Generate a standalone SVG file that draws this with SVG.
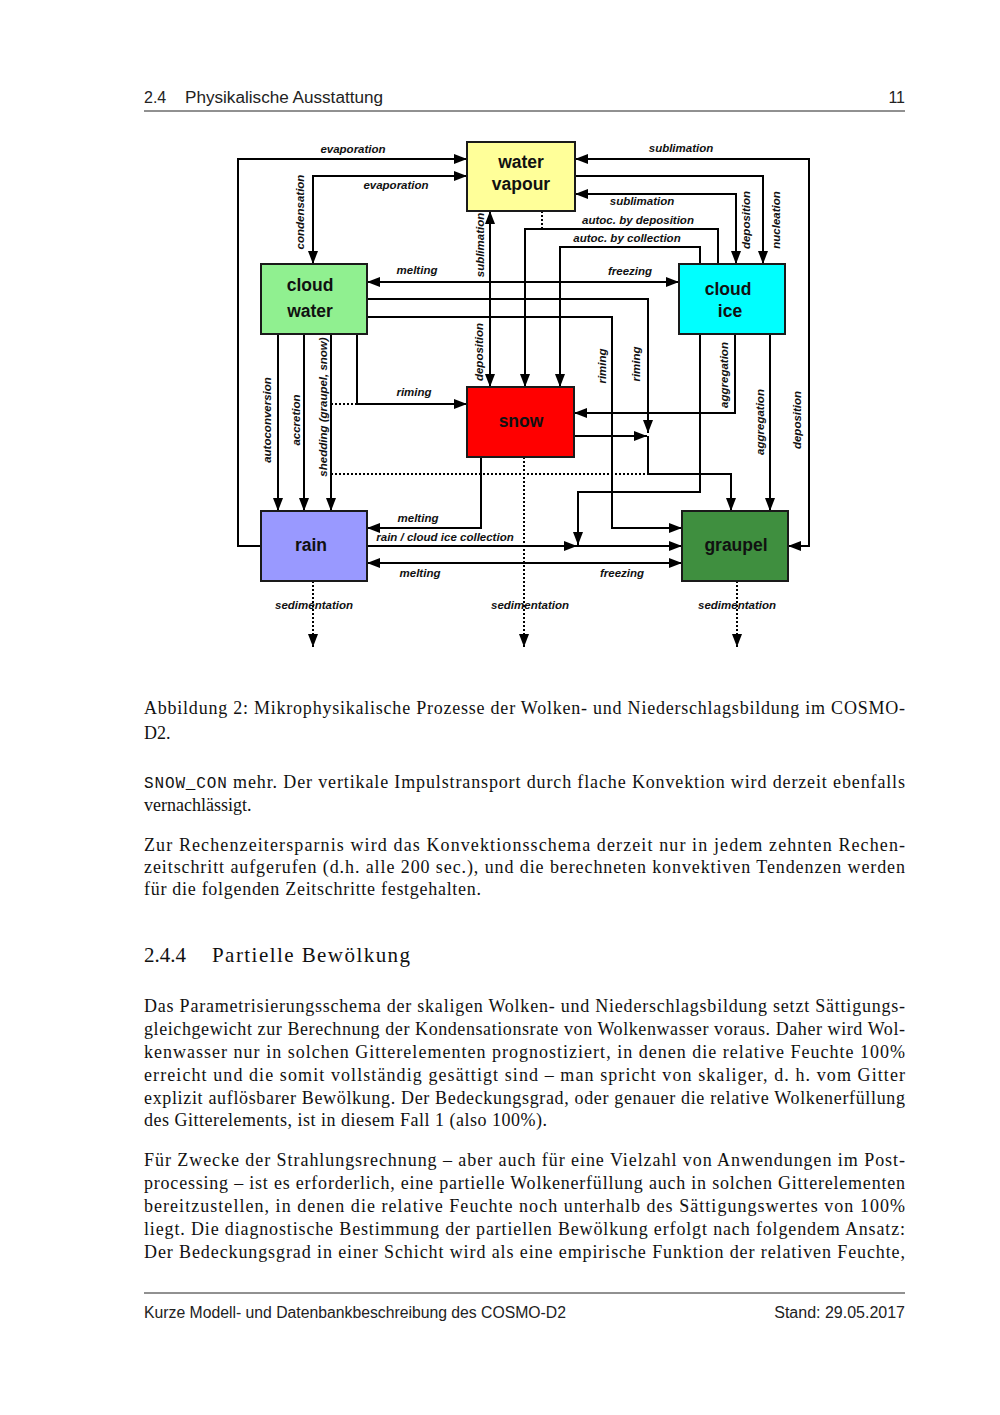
<svg xmlns="http://www.w3.org/2000/svg" width="1000" height="1415" viewBox="0 0 1000 1415">
<style>
.box{stroke:#1a1a1a;stroke-width:2}
.nt{font-family:"Liberation Sans",Arial,sans-serif;font-weight:bold;font-size:17.5px;fill:#111;text-anchor:middle}
.lbl{font-family:"Liberation Sans",Arial,sans-serif;font-weight:bold;font-style:italic;font-size:11.5px;fill:#111;text-anchor:middle}
.c{fill:none;stroke:#000;stroke-width:2}
.a{marker-end:url(#ah)}
.b{marker-start:url(#ah);marker-end:url(#ah)}
.d{stroke-dasharray:2 2}
.body{font-family:"Liberation Serif","Times New Roman",serif;font-size:18px;fill:#111}
.mono{font-family:"Liberation Mono","Courier New",monospace;font-size:16px}
.sans{font-family:"Liberation Sans",Arial,sans-serif;font-size:16px;fill:#222}
.rule{stroke:#222;stroke-width:1}
</style>
<defs>
<marker id="ah" markerUnits="userSpaceOnUse" markerWidth="13" markerHeight="10" refX="13" refY="5" orient="auto-start-reverse">
<path d="M0,0 L13,5 L0,10 z" fill="#000"/>
</marker>
</defs>
<rect width="1000" height="1415" fill="#fff"/>

<!-- page header -->
<g id="header">
<text class="sans" x="144" y="103">2.4</text>
<text class="sans" x="185" y="103" textLength="198" lengthAdjust="spacingAndGlyphs">Physikalische Ausstattung</text>
<text class="sans" x="905" y="103" text-anchor="end">11</text>
<line class="rule" x1="144" y1="111" x2="905" y2="111"/>
</g>

<!-- connectors -->
<g id="connectors">
<path class="c a" d="M261,546 H238 V159 H467"/>
<path class="c b" d="M313,264 V176 H467"/>
<path class="c b" d="M788,546 H809 V159 H575"/>
<path class="c a" d="M575,176 H763 V264"/>
<path class="c b" d="M575,194 H736 V264"/>
<path class="c a" d="M718,264 V229 H525 V387"/>
<path class="c a" d="M700,264 V247 H560 V387"/>
<path class="c b" d="M490,211 V387"/>
<path class="c d" d="M542,211 V229"/>
<path class="c b" d="M367,282 H679"/>
<path class="c a" d="M367,299 H648 V433"/>
<path class="c a" d="M574,436 H647"/>
<path class="c a" d="M648,436 V474 H731 V511"/>
<path class="c a" d="M367,317 H612 V528 H682"/>
<path class="c a" d="M735,334 V413 H574"/>
<path class="c a" d="M770,334 V511"/>
<path class="c a" d="M700,334 V492 H578 V545"/>
<path class="c a" d="M367,546 H577"/>
<path class="c a" d="M577,546 H682"/>
<path class="c a" d="M481,457 V528 H367"/>
<path class="c b" d="M367,563 H682"/>
<path class="c a" d="M278,334 V511"/>
<path class="c a" d="M304,334 V511"/>
<path class="c a" d="M331,334 V511"/>
<path class="c a" d="M357,334 V404 H467"/>
<path class="c d" d="M331,404 H357"/>
<path class="c d" d="M331,474 H648"/>
<path class="c d a" d="M313,581 V647"/>
<path class="c d a" d="M524,457 V647"/>
<path class="c d a" d="M737,581 V647"/>
</g>

<!-- connector labels -->
<g id="labels">
<text class="lbl" x="353" y="153">evaporation</text>
<text class="lbl" x="396" y="189">evaporation</text>
<text class="lbl" transform="translate(304,212) rotate(-90)">condensation</text>
<text class="lbl" x="681" y="152">sublimation</text>
<text class="lbl" x="642" y="205">sublimation</text>
<text class="lbl" x="638" y="224">autoc. by deposition</text>
<text class="lbl" x="627" y="242">autoc. by collection</text>
<text class="lbl" transform="translate(750,220) rotate(-90)">deposition</text>
<text class="lbl" transform="translate(780,220) rotate(-90)">nucleation</text>
<text class="lbl" x="417" y="274">melting</text>
<text class="lbl" x="630" y="275">freezing</text>
<text class="lbl" transform="translate(484,245) rotate(-90)">sublimation</text>
<text class="lbl" transform="translate(483,352) rotate(-90)">deposition</text>
<text class="lbl" transform="translate(606,366) rotate(-90)">riming</text>
<text class="lbl" transform="translate(640,364) rotate(-90)">riming</text>
<text class="lbl" transform="translate(728,375) rotate(-90)">aggregation</text>
<text class="lbl" transform="translate(764,422) rotate(-90)">aggregation</text>
<text class="lbl" transform="translate(801,420) rotate(-90)">deposition</text>
<text class="lbl" transform="translate(271,420) rotate(-90)">autoconversion</text>
<text class="lbl" transform="translate(300,420) rotate(-90)">accretion</text>
<text class="lbl" transform="translate(327,407) rotate(-90)">shedding (graupel, snow)</text>
<text class="lbl" x="414" y="396">riming</text>
<text class="lbl" x="418" y="522">melting</text>
<text class="lbl" x="445" y="541">rain / cloud ice collection</text>
<text class="lbl" x="420" y="577">melting</text>
<text class="lbl" x="622" y="577">freezing</text>
<text class="lbl" x="314" y="609">sedimentation</text>
<text class="lbl" x="530" y="609">sedimentation</text>
<text class="lbl" x="737" y="609">sedimentation</text>
</g>

<!-- nodes -->
<g id="water_vapour">
<rect class="box" x="467" y="142" width="108" height="69" fill="#FFFF99"/>
<text class="nt" x="521" y="168">water</text>
<text class="nt" x="521" y="190">vapour</text>
</g>
<g id="cloud_water">
<rect class="box" x="261" y="264" width="106" height="70" fill="#90F090"/>
<text class="nt" x="310" y="291">cloud</text>
<text class="nt" x="310" y="317">water</text>
</g>
<g id="cloud_ice">
<rect class="box" x="679" y="264" width="106" height="70" fill="#00FFFF"/>
<text class="nt" x="728" y="295">cloud</text>
<text class="nt" x="730" y="317">ice</text>
</g>
<g id="snow">
<rect class="box" x="467" y="387" width="107" height="70" fill="#FF0000"/>
<text class="nt" x="521" y="427">snow</text>
</g>
<g id="rain">
<rect class="box" x="261" y="511" width="106" height="70" fill="#9999FF"/>
<text class="nt" x="311" y="551">rain</text>
</g>
<g id="graupel">
<rect class="box" x="682" y="511" width="106" height="70" fill="#3F8F3F"/>
<text class="nt" x="736" y="551">graupel</text>
</g>

<!-- page body -->
<g id="body">
<text class="body" x="144" y="714" textLength="761" lengthAdjust="spacing">Abbildung 2: Mikrophysikalische Prozesse der Wolken- und Niederschlagsbildung im COSMO-</text>
<text class="body" x="144" y="739">D2.</text>
<text class="body" x="144" y="788" textLength="761" lengthAdjust="spacing"><tspan class="mono">SNOW_CON</tspan> mehr. Der vertikale Impulstransport durch flache Konvektion wird derzeit ebenfalls</text>
<text class="body" x="144" y="811">vernachlässigt.</text>
<text class="body" x="144" y="851" textLength="761" lengthAdjust="spacing">Zur Rechenzeitersparnis wird das Konvektionsschema derzeit nur in jedem zehnten Rechen-</text>
<text class="body" x="144" y="873" textLength="761" lengthAdjust="spacing">zeitschritt aufgerufen (d.h. alle 200 sec.), und die berechneten konvektiven Tendenzen werden</text>
<text class="body" x="144" y="895" textLength="337" lengthAdjust="spacing">für die folgenden Zeitschritte festgehalten.</text>
<text class="body" x="144" y="962" style="font-size:21px">2.4.4</text>
<text class="body" x="212" y="962" style="font-size:21px" textLength="198" lengthAdjust="spacing">Partielle Bewölkung</text>
<text class="body" x="144" y="1012" textLength="761" lengthAdjust="spacing">Das Parametrisierungsschema der skaligen Wolken- und Niederschlagsbildung setzt Sättigungs-</text>
<text class="body" x="144" y="1035" textLength="761" lengthAdjust="spacing">gleichgewicht zur Berechnung der Kondensationsrate von Wolkenwasser voraus. Daher wird Wol-</text>
<text class="body" x="144" y="1058" textLength="761" lengthAdjust="spacing">kenwasser nur in solchen Gitterelementen prognostiziert, in denen die relative Feuchte 100%</text>
<text class="body" x="144" y="1081" textLength="761" lengthAdjust="spacing">erreicht und die somit vollständig gesättigt sind – man spricht von skaliger, d. h. vom Gitter</text>
<text class="body" x="144" y="1104" textLength="761" lengthAdjust="spacing">explizit auflösbarer Bewölkung. Der Bedeckungsgrad, oder genauer die relative Wolkenerfüllung</text>
<text class="body" x="144" y="1126" textLength="403" lengthAdjust="spacing">des Gitterelements, ist in diesem Fall 1 (also 100%).</text>
<text class="body" x="144" y="1166" textLength="761" lengthAdjust="spacing">Für Zwecke der Strahlungsrechnung – aber auch für eine Vielzahl von Anwendungen im Post-</text>
<text class="body" x="144" y="1189" textLength="761" lengthAdjust="spacing">processing – ist es erforderlich, eine partielle Wolkenerfüllung auch in solchen Gitterelementen</text>
<text class="body" x="144" y="1212" textLength="761" lengthAdjust="spacing">bereitzustellen, in denen die relative Feuchte noch unterhalb des Sättigungswertes von 100%</text>
<text class="body" x="144" y="1235" textLength="761" lengthAdjust="spacing">liegt. Die diagnostische Bestimmung der partiellen Bewölkung erfolgt nach folgendem Ansatz:</text>
<text class="body" x="144" y="1258" textLength="761" lengthAdjust="spacing">Der Bedeckungsgrad in einer Schicht wird als eine empirische Funktion der relativen Feuchte,</text>
</g>

<!-- footer -->
<g id="footer">
<line class="rule" x1="144" y1="1293" x2="905" y2="1293"/>
<text class="sans" x="144" y="1318" textLength="422" lengthAdjust="spacingAndGlyphs">Kurze Modell- und Datenbankbeschreibung des COSMO-D2</text>
<text class="sans" x="905" y="1318" text-anchor="end">Stand: 29.05.2017</text>
</g>
</svg>
